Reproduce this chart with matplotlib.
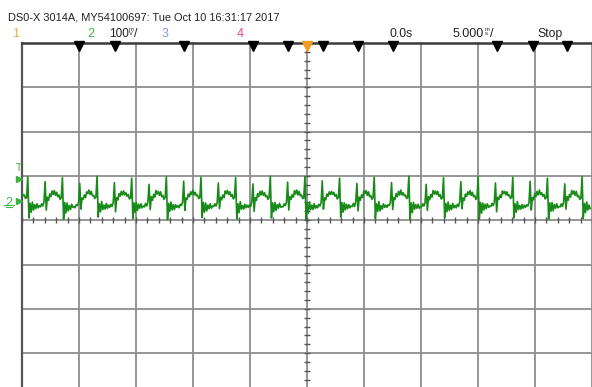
import numpy as np
import matplotlib.pyplot as plt

# channel 2 capture, mV, one sample every 0.1013 ms starting at -25 ms
trace_mv = [
    20, 12, 14, 6, 8,
    55, -38, -5, -25, -2, -20, -8, -17, -6, -15, -10, -13, -6, -11, -2, 44, -20, 9, 2, 16, 10, 23, 15, 24, 13, 20, 10, 14, 4, 8,
    53, -41, -3, -27, -4, -22, -10, -19, -7, -14, -12, -15, -8, -10, -4, 40, -18, 7, 4, 14, 8, 21, 17, 25, 15, 22, 12, 13, 6, 9,
    56, -36, -6, -24, -1, -19, -9, -18, -5, -16, -9, -14, -7, -12, -3, 42, -24, 8, 3, 17, 11, 22, 14, 23, 14, 19, 11, 15, 5, 7,
    52, -39, -4, -26, -3, -21, -7, -16, -6, -15, -11, -13, -5, -11, -2, 38, -19, 10, 2, 15, 9, 24, 16, 22, 13, 21, 10, 13, 4, 9,
    55, -42, -5, -23, -2, -20, -8, -19, -8, -14, -10, -15, -7, -10, -3, 45, -21, 7, 4, 16, 10, 21, 15, 25, 14, 20, 12, 14, 6, 8,
    54, -37, -3, -25, -4, -22, -9, -17, -6, -16, -11, -12, -6, -11, -4, 41, -17, 9, 3, 14, 8, 23, 17, 24, 15, 21, 11, 15, 5, 9,
    53, -40, -6, -26, -1, -18, -10, -18, -7, -15, -9, -14, -8, -12, -2, 39, -23, 8, 2, 17, 10, 22, 14, 23, 13, 19, 10, 13, 4, 8,
    56, -38, -4, -24, -3, -21, -8, -16, -5, -14, -12, -13, -6, -10, -3, 43, -20, 10, 4, 15, 9, 24, 16, 25, 14, 22, 12, 14, 6, 7,
    55, -41, -5, -27, -2, -19, -9, -19, -6, -16, -10, -15, -7, -11, -4, 46, -18, 7, 3, 16, 11, 21, 15, 22, 15, 20, 11, 15, 5, 9,
    52, -36, -3, -25, -4, -20, -7, -17, -8, -15, -11, -12, -5, -12, -2, 40, -22, 9, 2, 14, 8, 23, 17, 24, 13, 21, 10, 13, 4, 8,
    54, -39, -6, -23, -1, -22, -10, -18, -6, -14, -9, -14, -8, -10, -3, 42, -19, 8, 4, 17, 10, 22, 14, 25, 14, 19, 12, 14, 6, 9,
    56, -42, -4, -26, -3, -18, -8, -16, -7, -16, -12, -13, -6, -11, -4, 38, -21, 10, 3, 15, 9, 24, 16, 23, 15, 22, 11, 15, 5, 7,
    53, -37, -5, -24, -2, -21, -9, -19, -5, -15, -10, -15, -7, -12, -2, 44, -17, 7, 2, 16, 11, 21, 15, 24, 13, 20, 10, 13, 4, 8,
    55, -40, -3, -27, -4, -20, -7, -17, -6, -14, -11, -12, -5, -10, -3, 41, -24, 9, 4, 14, 8, 23, 17, 22, 14, 21, 12, 14, 6, 9,
    54, -38, -6, -25, -1, -19, -10, -18, -8, -16, -9, -14, -8, -11, -4, 45, -20, 8, 3, 17, 10, 22, 14, 25, 15, 19, 11, 15, 5, 8,
    52, -41, -4, -23, -3, -22, -8, -16, -6, -15, -12, -13, -6, -12, -2, 39, -18, 10, 2, 15, 9, 24, 16, 23, 13, 22, 10, 13, 4, 7,
    55, -39, -5, -26, -2, -20, -9, -17,
]
dt_ms = 0.1013

# screen settings
time_per_div = 5.0      # ms/div
volts_per_div = 100.0   # mV/div
ch2_offset_mv = 43.0    # ground marker above screen centre
trigger_mv = 50.0

# timebase markers along the top edge
marker_ms = [-20.0, -16.84, -10.79, -4.74, -1.67, 1.40, 4.47, 7.54, 16.67, 19.82, 22.8]

W, H = 592, 387


def px(x, y):
    return x / W, 1 - y / H


def main():
    fig = plt.figure(figsize=(W / 100, H / 100), dpi=100)
    fig.patch.set_facecolor('white')

    top_px, div_x, div_y = 43, 57.0, 44.3
    ax = fig.add_axes([22 / W, 1 - (top_px + 8 * div_y) / H, 10 * div_x / W, 8 * div_y / H])
    ax.set_facecolor('white')
    ax.set_xlim(-5 * time_per_div, 5 * time_per_div)
    ylo, yhi = -4 * volts_per_div - ch2_offset_mv, 4 * volts_per_div - ch2_offset_mv
    ax.set_ylim(ylo, yhi)
    ax.set_xticks([])
    ax.set_yticks([])
    for s in ax.spines.values():
        s.set_visible(False)

    grid_c = '#8e8e8e'
    for k in range(-5, 6):
        ax.axvline(k * time_per_div, color=grid_c, lw=1.3, zorder=1, clip_on=False)
    for k in range(-4, 5):
        ax.axhline(-ch2_offset_mv + k * volts_per_div, color=grid_c, lw=1.3, zorder=1)
    ax.axvline(-5 * time_per_div, color='#555555', lw=1.6, zorder=2, clip_on=False)
    ax.axhline(yhi, color='#3a3a3a', lw=1.8, zorder=2, clip_on=False)

    # minor ticks on the centre cross
    tx = np.arange(-25, 25.01, 1.0)
    ax.plot(tx, np.full(len(tx), -ch2_offset_mv), '|', ms=5, mew=1.0, color='#555555', zorder=2)
    ty = np.arange(ylo, yhi + 0.1, 20.0)
    ax.plot(np.zeros(len(ty)), ty, '_', ms=5, mew=1.0, color='#555555', zorder=2)

    # trace
    v = np.array(trace_mv, dtype=float)
    t = -25.0 + dt_ms * np.arange(len(v))
    ax.plot(t, v, color='#178a17', lw=1.2, zorder=3)

    # top markers
    ax.plot(marker_ms, np.full(len(marker_ms), yhi - 7), 'v', ms=6.5, color='black', clip_on=False, zorder=4)
    ax.plot([0], [yhi - 7], 'v', ms=7, color='#f39c1f', clip_on=False, zorder=4)

    # header
    fam = ['Liberation Sans', 'DejaVu Sans']
    dark = '#222222'
    fig.text(*px(8, 20), 'DS0-X 3014A, MY54100697: Tue Oct 10 16:31:17 2017',
             family=fam, fontsize=7.9, color=dark, va='baseline')
    fig.text(*px(12, 37), '1', family=fam, fontsize=9, color='#f5a63a', va='baseline')
    fig.text(*px(87, 37), '2', family=fam, fontsize=9, color='#3cb43c', va='baseline')
    fig.text(*px(109, 37), '100', family=fam, fontsize=8.5, color=dark, va='baseline')
    fig.text(*px(129, 27), 'm\nV', family=fam, fontsize=4.2, linespacing=0.85, color=dark, va='top')
    fig.text(*px(134, 37), '/', family=fam, fontsize=9, color=dark, va='baseline')
    fig.text(*px(162, 37), '3', family=fam, fontsize=9, color='#7f9cf5', va='baseline')
    fig.text(*px(237, 37), '4', family=fam, fontsize=9, color='#f0408f', va='baseline')
    fig.text(*px(390, 37), '0.0s', family=fam, fontsize=8.8, color=dark, va='baseline')
    fig.text(*px(453, 37), '5.000', family=fam, fontsize=9, color=dark, va='baseline')
    fig.text(*px(485, 27), 'm\ns', family=fam, fontsize=4.2, linespacing=0.85, color=dark, va='top')
    fig.text(*px(490, 37), '/', family=fam, fontsize=9, color=dark, va='baseline')
    fig.text(*px(537, 37), 'Stop', family=fam, fontsize=8.8, color=dark, va='baseline')

    # trigger level and channel 2 ground markers
    green = '#3cb43c'
    fig.text(*px(16, 171), 'T', family=fam, fontsize=7.5, color=green, va='baseline')
    ax.plot([-25.3], [trigger_mv], '>', ms=5, color=green, clip_on=False)
    fig.text(*px(5, 206), '2', family=fam, fontsize=9, color=green, va='baseline')
    ax.plot([-25.3], [0], '>', ms=5, color=green, clip_on=False)
    ax.plot([-26.6, -25.7], [-9, -9], color=green, lw=0.8, clip_on=False)
    ax.plot([-26.4, -25.9], [-13, -13], color=green, lw=0.8, clip_on=False)

    fig.savefig('out.png', dpi=100, facecolor='white')


if __name__ == '__main__':
    main()
